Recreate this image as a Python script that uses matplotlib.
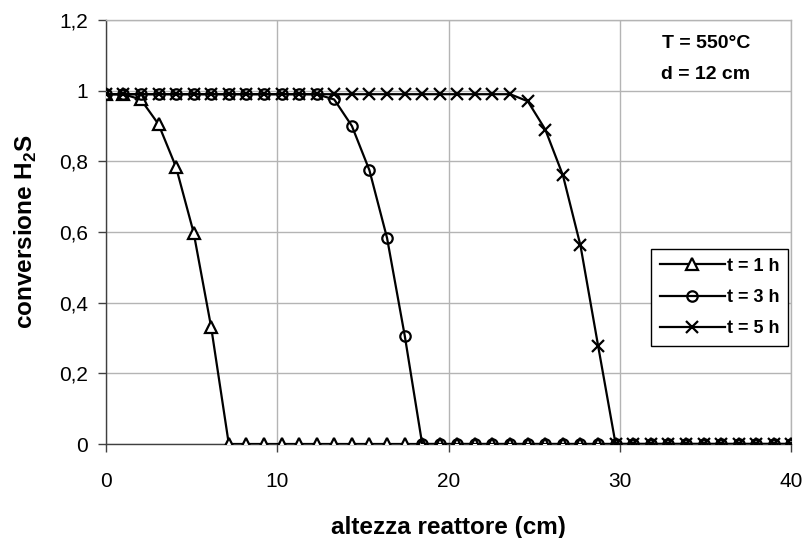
import matplotlib
matplotlib.use("Agg")
import matplotlib.pyplot as plt
from matplotlib.ticker import FuncFormatter

plt.rcParams['font.family'] = ['Liberation Sans', 'DejaVu Sans']
plt.rcParams['mathtext.fontset'] = 'custom'
plt.rcParams['mathtext.rm'] = 'Liberation Sans'
plt.rcParams['mathtext.bf'] = 'Liberation Sans:bold'

# reactor height positions (cm), 40 points over 0-40
altezza = [0.00, 1.03, 2.05, 3.08, 4.10, 5.13, 6.15, 7.18, 8.21, 9.23,
           10.26, 11.28, 12.31, 13.33, 14.36, 15.38, 16.41, 17.44, 18.46, 19.49,
           20.51, 21.54, 22.56, 23.59, 24.62, 25.64, 26.67, 27.69, 28.72, 29.74,
           30.77, 31.79, 32.82, 33.85, 34.87, 35.90, 36.92, 37.95, 38.97, 40.00]

conv_1h = [0.99, 0.99, 0.975, 0.905, 0.784, 0.598, 0.331] + [0.0] * 33
conv_3h = [0.99] * 13 + [0.975, 0.90, 0.775, 0.583, 0.307] + [0.0] * 22
conv_5h = [0.99] * 24 + [0.97, 0.89, 0.76, 0.562, 0.278] + [0.0] * 11

labels = ['t = 1 h', 't = 3 h', 't = 5 h']

W, H = 807, 538
fig = plt.figure(figsize=(W / 100, H / 100), dpi=100)
ax = fig.add_axes([105.7 / W, (H - 444) / H, (791.5 - 105.7) / W, (444 - 20) / H])

ax.plot(altezza, conv_1h, color='black', lw=1.6, marker='^', ms=8,
        mfc='white', mec='black', mew=1.6, label=labels[0], zorder=3)
ax.plot(altezza, conv_3h, color='black', lw=1.6, marker='o', ms=7.5,
        mfc='none', mec='black', mew=1.6, label=labels[1], zorder=3)
ax.plot(altezza, conv_5h, color='black', lw=1.6, marker='x', ms=8,
        mec='black', mew=1.6, label=labels[2], zorder=3)

ax.set_xlim(0, 40)
ax.set_ylim(0, 1.2)
ax.set_xticks([0, 10, 20, 30, 40])
ax.set_yticks([0, 0.2, 0.4, 0.6, 0.8, 1.0, 1.2])
ax.yaxis.set_major_formatter(FuncFormatter(lambda v, p: ('%g' % round(v, 1)).replace('.', ',')))

ax.grid(True, color='#b4b4b4', lw=1.0)
ax.set_axisbelow(True)
for s in ['top', 'right']:
    ax.spines[s].set_color('#b4b4b4')
    ax.spines[s].set_linewidth(1.0)
for s in ['left', 'bottom']:
    ax.spines[s].set_color('#404040')
    ax.spines[s].set_linewidth(1.0)

ax.tick_params(axis='both', direction='out', length=5.5, width=1.0,
               color='#404040', labelsize=15)
ax.tick_params(axis='x', pad=15)
ax.tick_params(axis='y', pad=7)

ax.set_xlabel('altezza reattore (cm)', fontsize=17.5, fontweight='bold', labelpad=18)
ax.set_ylabel(r'conversione H$_\mathbf{2}$S', fontsize=17.5, fontweight='bold', labelpad=15)

# annotation box text
ax.text(0.875, 0.945, 'T = 550°C', fontsize=14, fontweight='bold',
        ha='center', va='center', transform=ax.transAxes)
ax.text(0.875, 0.872, 'd = 12 cm', fontsize=14, fontweight='bold',
        ha='center', va='center', transform=ax.transAxes)

leg = ax.legend(loc='lower right', bbox_to_anchor=(0.995, 0.23),
                prop={'weight': 'bold', 'size': 13}, frameon=True, fancybox=False,
                edgecolor='black', framealpha=1, borderpad=0.5, labelspacing=0.8,
                handlelength=3.6, handletextpad=0.1, borderaxespad=0.0)
leg.get_frame().set_linewidth(1.0)

fig.savefig('out.png', dpi=100)
